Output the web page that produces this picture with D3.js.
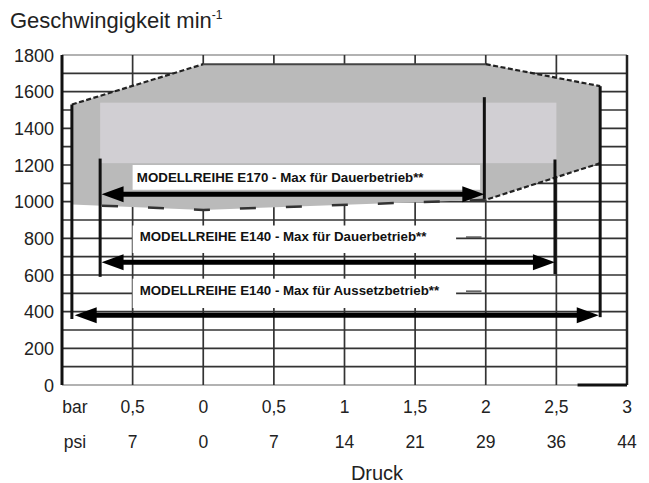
<!DOCTYPE html>
<html><head><meta charset="utf-8">
<script src="https://cdn.jsdelivr.net/npm/d3@7"></script>
<style>body{margin:0;background:#fff}svg{display:block;font-family:"Liberation Sans",Arial,sans-serif}</style>
</head><body><svg id="c" width="649" height="483"></svg>
<script>
// ---- data ----
const barPositions = [-0.5, 0, 0.5, 1, 1.5, 2, 2.5, 3];
const barLabels = ["0,5", "0", "0,5", "1", "1,5", "2", "2,5", "3"];
const psiLabels = ["7", "0", "7", "14", "21", "29", "36", "44"];
const speedTicks = [0, 200, 400, 600, 800, 1000, 1200, 1400, 1600, 1800];
const gridSpeeds = d3.range(0, 1801, 100);
// envelope of E140 intermittent operation [pressure bar, speed]
const envelope = [[-0.93, 1530], [0, 1750], [2, 1750], [2.81, 1630], [2.81, 1210], [2, 1010], [0, 955], [-0.93, 985]];
// inner field E140 continuous [pressure from, to, speed from, to]
const innerField = [-0.73, 2.5, 1210, 1540];
// model ranges: label, arrow speed, pressure from/to
const models = [
  {label: "MODELLREIHE E170 - Max für Dauerbetrieb**", speed: 1040, from: -0.72, to: 1.99, labelSpeed: 1105, boxTop: 1200, boxBottom: 1065, boxTo: 1.96},
  {label: "MODELLREIHE E140 - Max für Dauerbetrieb**", speed: 670, from: -0.72, to: 2.49, labelSpeed: 785, boxTop: 870, boxBottom: 720, boxTo: 1.79},
  {label: "MODELLREIHE E140 - Max für Aussetzbetrieb**", speed: 380, from: -0.91, to: 2.80, labelSpeed: 490, boxTop: 580, boxBottom: 420, boxTo: 1.79}
];
// vertical limit lines [pressure, speed top, speed bottom]
const limitLines = [[-0.93, 1530, 360], [-0.73, 1235, 590], [1.99, 1570, 1015], [2.49, 1230, 605], [2.81, 1630, 370]];

// ---- scales ----
const svg = d3.select("#c");
const x = d3.scaleLinear().domain([-1, 3]).range([62, 627]);
const y = d3.scaleLinear().domain([0, 1800]).range([385, 55]);
const line = d3.line().x(d => x(d[0])).y(d => y(d[1]));

// grid
const g = svg.append("g");
g.selectAll(".hg").data(gridSpeeds).join("line")
  .attr("x1", x(-1)).attr("x2", x(3)).attr("y1", d => y(d)).attr("y2", d => y(d))
  .attr("stroke", d => d === 1800 || d === 0 ? "#999" : "#333").attr("stroke-width", 1.7);
g.selectAll(".vg").data(barPositions.slice(0, 7)).join("line")
  .attr("x1", d => x(d)).attr("x2", d => x(d)).attr("y1", y(1800)).attr("y2", y(0))
  .attr("stroke", "#333").attr("stroke-width", 1.7);

// envelope fill
svg.append("path").attr("d", line(envelope) + "Z").attr("fill", "#bababa");
// inner field
svg.append("rect").attr("x", x(innerField[0])).attr("width", x(innerField[1]) - x(innerField[0]))
  .attr("y", y(innerField[3])).attr("height", y(innerField[2]) - y(innerField[3])).attr("fill", "#d1cfd3");
// white label boxes
svg.selectAll(".box").data(models).join("rect")
  .attr("x", x(-0.5)).attr("width", d => x(d.boxTo) - x(-0.5))
  .attr("y", d => y(d.boxTop)).attr("height", d => y(d.boxBottom) - y(d.boxTop)).attr("fill", "#fff");
// small artifacts
svg.selectAll(".art").data(models.slice(1)).join("line")
  .attr("x1", x(1.86)).attr("x2", x(1.97)).attr("y1", d => y(d.labelSpeed) - 4).attr("y2", d => y(d.labelSpeed) - 4)
  .attr("stroke", "#555").attr("stroke-width", 1.5);

// envelope outline
const dash = "5,2.5";
svg.append("path").attr("d", line([envelope[0], envelope[1]])).attr("stroke", "#222").attr("stroke-width", 2.2).attr("stroke-dasharray", dash).attr("fill", "none");
svg.append("path").attr("d", line([envelope[1], envelope[2]])).attr("stroke", "#444").attr("stroke-width", 2).attr("fill", "none");
svg.append("path").attr("d", line([envelope[2], envelope[3]])).attr("stroke", "#222").attr("stroke-width", 2.2).attr("stroke-dasharray", dash).attr("fill", "none");
svg.append("path").attr("d", line([envelope[4], envelope[5]])).attr("stroke", "#222").attr("stroke-width", 2.2).attr("stroke-dasharray", dash).attr("fill", "none");
svg.append("path").attr("d", line([envelope[5], envelope[6], envelope[7]])).attr("stroke", "#333").attr("stroke-width", 2.5).attr("stroke-dasharray", "16,30").attr("fill", "none");

// vertical limit lines
svg.selectAll(".lim").data(limitLines).join("line")
  .attr("x1", d => x(d[0])).attr("x2", d => x(d[0])).attr("y1", d => y(d[1])).attr("y2", d => y(d[2]))
  .attr("stroke", "#111").attr("stroke-width", 3);

// axes borders
svg.append("line").attr("x1", x(-1)).attr("x2", x(-1)).attr("y1", y(1800)).attr("y2", y(0)).attr("stroke", "#111").attr("stroke-width", 3);
svg.append("line").attr("x1", x(3)).attr("x2", x(3)).attr("y1", y(1800)).attr("y2", y(0)).attr("stroke", "#222").attr("stroke-width", 2.5);
svg.append("line").attr("x1", x(2.65)).attr("x2", x(3)).attr("y1", y(0)).attr("y2", y(0)).attr("stroke", "#111").attr("stroke-width", 3);

// arrows
models.forEach(m => {
  const yy = y(m.speed), x0 = x(m.from), x1 = x(m.to), L = 22, H = 8;
  svg.append("line").attr("x1", x0 + L - 2).attr("x2", x1 - L + 2).attr("y1", yy).attr("y2", yy).attr("stroke", "#000").attr("stroke-width", 5);
  svg.append("path").attr("d", `M${x0},${yy}L${x0 + L},${yy - H}L${x0 + L},${yy + H}Z`).attr("fill", "#000");
  svg.append("path").attr("d", `M${x1},${yy}L${x1 - L},${yy - H}L${x1 - L},${yy + H}Z`).attr("fill", "#000");
});

// labels
svg.selectAll(".lbl").data(models).join("text")
  .attr("x", (d, i) => i === 0 ? x(-0.47) : x(-0.45)).attr("y", d => y(d.labelSpeed))
  .attr("font-size", 13.3).attr("font-weight", "bold").attr("fill", "#111").text(d => d.label);

// y tick labels
svg.selectAll(".yt").data(speedTicks).join("text")
  .attr("x", 54).attr("y", d => y(d) + 6.5).attr("text-anchor", "end").attr("font-size", 18).attr("fill", "#222").text(d => d);
// x tick labels
const barY = 413, psiY = 448;
svg.append("text").attr("x", 75).attr("y", barY).attr("text-anchor", "middle").attr("font-size", 17.5).attr("fill", "#222").text("bar");
svg.append("text").attr("x", 75).attr("y", psiY).attr("text-anchor", "middle").attr("font-size", 17.5).attr("fill", "#222").text("psi");
svg.selectAll(".xb").data(barPositions).join("text")
  .attr("x", d => x(d)).attr("y", barY).attr("text-anchor", "middle").attr("font-size", 17.5).attr("fill", "#222").text((d, i) => barLabels[i]);
svg.selectAll(".xp").data(barPositions).join("text")
  .attr("x", d => x(d)).attr("y", psiY).attr("text-anchor", "middle").attr("font-size", 17.5).attr("fill", "#222").text((d, i) => psiLabels[i]);
svg.append("text").attr("x", 377).attr("y", 480).attr("text-anchor", "middle").attr("font-size", 20).attr("fill", "#222").text("Druck");
// title
const t = svg.append("text").attr("x", 10).attr("y", 28).attr("font-size", 22).attr("fill", "#222");
t.append("tspan").text("Geschwingigkeit min");
t.append("tspan").attr("font-size", 12).attr("dy", -9).text("-1");
</script></body></html>
